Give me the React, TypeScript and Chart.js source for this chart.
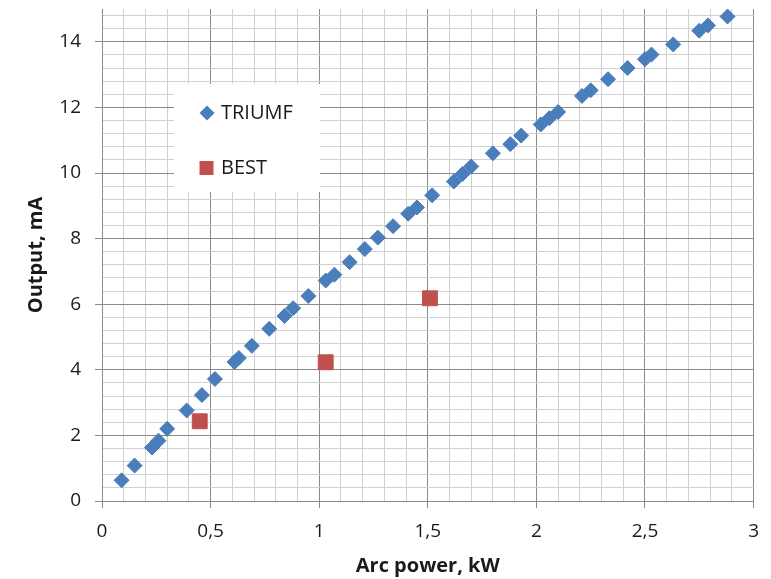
import React, { useEffect, useRef } from 'react';
import { Chart, registerables } from 'chart.js';

Chart.register(...registerables);

// ---- data ----
const triumfX = [0.09, 0.15, 0.23, 0.26, 0.30, 0.39, 0.46, 0.52, 0.61, 0.63, 0.69, 0.77, 0.84, 0.88, 0.95, 1.03, 1.07, 1.14, 1.21, 1.27, 1.34, 1.41, 1.45, 1.52, 1.62, 1.66, 1.70, 1.80, 1.88, 1.93, 2.02, 2.06, 2.10, 2.21, 2.25, 2.33, 2.42, 2.50, 2.53, 2.63, 2.75, 2.79, 2.88];
const triumfY = [0.63, 1.08, 1.63, 1.84, 2.20, 2.76, 3.23, 3.72, 4.24, 4.36, 4.73, 5.25, 5.64, 5.88, 6.25, 6.72, 6.90, 7.28, 7.68, 8.03, 8.38, 8.76, 8.95, 9.32, 9.74, 9.97, 10.20, 10.60, 10.88, 11.14, 11.48, 11.67, 11.86, 12.35, 12.52, 12.86, 13.20, 13.47, 13.61, 13.92, 14.34, 14.50, 14.77];
const bestX = [0.45, 1.03, 1.51];
const bestY = [2.43, 4.23, 6.18];
const seriesNames = ['TRIUMF', 'BEST'];
const xAxisTitle = 'Arc power, kW';
const yAxisTitle = 'Output, mA';
const xMin = 0, xMax = 3, xMajor = 0.5, xMinor = 0.1;
const yMin = 0, yMax = 15, yMajor = 2, yMinor = 0.4;

const FONT = "'Open Sans', sans-serif";
const BLUE = '#4A7EBB';
const RED = '#C0504D';
const MAJOR = '#8a8a8a';
const MINOR = '#d0d0d0';
const TEXT = '#1a1a1a';

const isMult = (v: number, step: number) => Math.abs(v / step - Math.round(v / step)) < 1e-6;

const legendPlugin = {
  id: 'insideLegend',
  afterDraw(chart: any) {
    const { ctx, chartArea } = chart;
    const bx = chartArea.left + 72;
    const by = chartArea.top + 75;
    const bw = 146;
    const bh = 108;
    ctx.save();
    ctx.fillStyle = '#ffffff';
    ctx.fillRect(bx, by, bw, bh);
    // TRIUMF diamond
    const dx = bx + 33, dy = by + 29, r = 7.5;
    ctx.fillStyle = BLUE;
    ctx.beginPath();
    ctx.moveTo(dx - r, dy);
    ctx.lineTo(dx, dy - r);
    ctx.lineTo(dx + r, dy);
    ctx.lineTo(dx, dy + r);
    ctx.closePath();
    ctx.fill();
    // BEST square
    const sx = bx + 32.5, sy = by + 84, s = 7;
    ctx.fillStyle = RED;
    ctx.fillRect(sx - s, sy - s, 2 * s, 2 * s);
    ctx.fillStyle = TEXT;
    ctx.font = `20px ${FONT}`;
    ctx.textAlign = 'left';
    ctx.textBaseline = 'middle';
    ctx.fillText(seriesNames[0], bx + 47, dy);
    ctx.fillText(seriesNames[1], bx + 47, sy);
    ctx.restore();
  },
};

export default function App() {
  const ref = useRef<HTMLCanvasElement>(null);

  useEffect(() => {
    if (!ref.current) return;
    const chart = new Chart(ref.current, {
      type: 'scatter',
      data: {
        datasets: [
          {
            label: seriesNames[0],
            data: triumfX.map((x, i) => ({ x, y: triumfY[i] })),
            pointStyle: 'rectRot',
            pointRadius: 7.5,
            pointHoverRadius: 7.5,
            borderWidth: 1,
            backgroundColor: BLUE,
            borderColor: BLUE,
          },
          {
            label: seriesNames[1],
            data: bestX.map((x, i) => ({ x, y: bestY[i] })),
            pointStyle: 'rect',
            pointRadius: 10.5,
            pointHoverRadius: 10.5,
            borderWidth: 1,
            backgroundColor: RED,
            borderColor: RED,
          },
        ],
      },
      options: {
        responsive: false,
        animation: false,
        devicePixelRatio: 1,
        layout: { autoPadding: false, padding: { top: 9, right: 17, left: 0, bottom: 0 } },
        plugins: {
          legend: { display: false },
          tooltip: { enabled: false },
        },
        scales: {
          x: {
            type: 'linear',
            min: xMin,
            max: xMax,
            afterFit: (scale: any) => {
              scale.height = 78;
            },
            border: { display: true, color: MAJOR, width: 1 },
            grid: {
              color: (c: any) => (c.tick && isMult(c.tick.value, xMajor) ? MAJOR : MINOR),
              tickColor: (c: any) => (c.tick && isMult(c.tick.value, xMajor) ? MAJOR : 'rgba(0,0,0,0)'),
              tickLength: 7,
              lineWidth: 1,
            },
            ticks: {
              stepSize: xMinor,
              autoSkip: false,
              maxRotation: 0,
              minRotation: 0,
              padding: 12,
              color: TEXT,
              font: { family: FONT, size: 19 },
              callback: (v: any) => (isMult(Number(v), xMajor) ? String(Number(v)).replace('.', ',') : ''),
            },
            title: {
              display: true,
              text: xAxisTitle,
              color: TEXT,
              font: { family: FONT, size: 20, weight: 'bold' },
              padding: { top: 0, bottom: 1 },
            },
          },
          y: {
            type: 'linear',
            min: yMin,
            max: yMax,
            afterFit: (scale: any) => {
              scale.width = 102;
              scale.paddingTop = 0;
              scale.paddingBottom = 0;
            },
            border: { display: true, color: MAJOR, width: 1 },
            grid: {
              color: (c: any) => (c.tick && isMult(c.tick.value, yMajor) ? MAJOR : MINOR),
              tickColor: (c: any) => (c.tick && isMult(c.tick.value, yMajor) ? MAJOR : 'rgba(0,0,0,0)'),
              tickLength: 7,
              lineWidth: 1,
            },
            ticks: {
              stepSize: yMinor,
              includeBounds: false,
              autoSkip: false,
              padding: 14,
              color: TEXT,
              font: { family: FONT, size: 19 },
              callback: (v: any) => (isMult(Number(v), yMajor) ? String(Math.round(Number(v))) : ''),
            },
            title: {
              display: true,
              text: yAxisTitle,
              color: TEXT,
              font: { family: FONT, size: 20, weight: 'bold' },
              padding: { top: 24, bottom: 0 },
            },
          },
        },
      },
      plugins: [legendPlugin],
    } as any);
    return () => chart.destroy();
  }, []);

  return (
    <div style={{ position: 'absolute', left: 0, top: 0, width: 771, height: 579, background: '#fff' }}>
      <canvas ref={ref} width={771} height={579} style={{ display: 'block' }} />
    </div>
  );
}
